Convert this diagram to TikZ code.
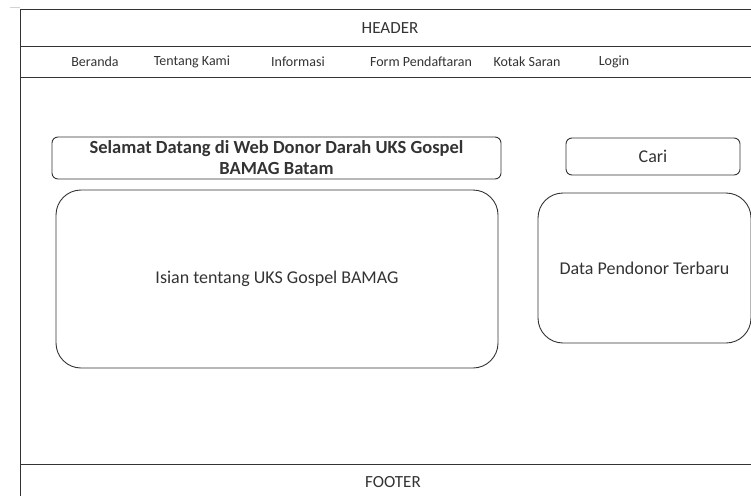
\documentclass[tikz,border=0pt]{standalone}
\usepackage{fontspec}
\setmainfont{Carlito}
\usetikzlibrary{positioning}

\begin{document}
\begin{tikzpicture}[x=1pt, y=-1pt,
  every path/.style={line width=0.9pt, black!80},
  box/.style={draw, rounded corners=#1, align=center, inner sep=0pt},
  box/.default=6pt,
  judul/.style={font=\fontsize{17}{20}\selectfont},
  menu/.style={font=\fontsize{14}{16}\selectfont},
  isi/.style={font=\fontsize{18}{20}\selectfont}]
  \useasboundingbox (0,0) rectangle (751,495);
  % page frame
  \draw[gray!35, line width=0.6pt] (10,7) -- (20,7);
  \draw (752,9) -- (20,9) -- (20,496);
  \draw (20,46) -- (752,46);
  \draw (20,77) -- (752,77);
  \draw (20,464) -- (752,464);
  \node[judul] (header) at (390,28) {HEADER};
  \node[judul] (footer) at (393,482) {FOOTER};
  % menu
  \node[menu] (beranda) at (95,62) {Beranda};
  \node[menu] (tentang) at (192,62) {Tentang Kami};
  \node[menu] (info) at (298,62) {Informasi};
  \node[menu] (form) at (421,62) {Form Pendaftaran};
  \node[menu] (saran) at (527,62) {Kotak Saran};
  \node[menu] (login) at (614,62) {Login};
  % content
  \node[box, font={\fontsize{18.5}{21}\selectfont\bfseries}, minimum width=449pt, minimum height=42pt]
    (welcome) at (276.5,158) {Selamat Datang di Web Donor Darah UKS Gospel\\BAMAG Batam};
  \node[box=25pt, isi, minimum width=442pt, minimum height=178pt]
    (isian) at (277,279) {\raisebox{-2pt}{Isian tentang UKS Gospel BAMAG}};
  \node[box, isi, minimum width=174pt, minimum height=37pt]
    (cari) at (653,156.5) {Cari};
  \node[box=25pt, isi, minimum width=213pt, minimum height=150pt]
    (pendonor) at (644.5,268) {Data Pendonor Terbaru};
\end{tikzpicture}
\end{document}
